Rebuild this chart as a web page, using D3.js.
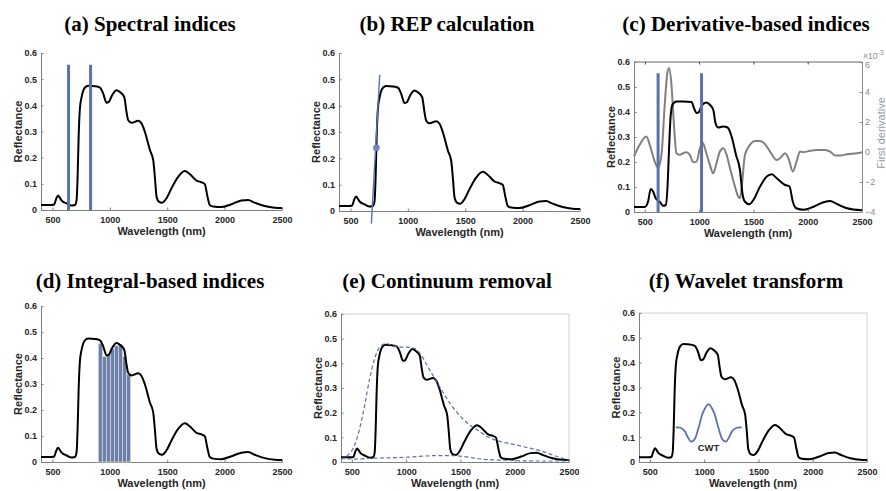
<!DOCTYPE html>
<html>
<head>
<meta charset="utf-8">
<script src="https://cdn.jsdelivr.net/npm/d3@7"></script>
<style>
body { margin: 0; background: #fff; }
svg text { font-family: "Liberation Sans", Arial, sans-serif; }
</style>
</head>
<body>
<div id="chart"></div>
<script>
// vegetation spectrum used in panels a, b, d, e, f
const specWl = [400, 490, 515, 530, 548, 565, 580, 623, 667, 696, 710, 719, 728, 739, 754, 783, 812, 870, 914, 942,
    971, 991, 1020, 1058, 1087, 1125, 1145, 1160, 1189, 1247, 1276, 1305, 1349, 1378, 1392, 1407, 1427, 1456, 1494,
    1537, 1595, 1653, 1697, 1755, 1798, 1827, 1851, 1871, 1900, 1972, 2059, 2146, 2204, 2262, 2349, 2436, 2500];
const specRefl = [0.019, 0.019, 0.021, 0.040, 0.055, 0.046, 0.036, 0.025, 0.017, 0.019, 0.038, 0.127, 0.280, 0.388, 0.432, 0.468, 0.475, 0.473, 0.468, 0.445,
    0.410, 0.413, 0.439, 0.458, 0.451, 0.432, 0.375, 0.343, 0.333, 0.341, 0.331, 0.299, 0.229, 0.190, 0.127, 0.051, 0.032, 0.028, 0.045,
    0.083, 0.127, 0.149, 0.137, 0.112, 0.106, 0.099, 0.051, 0.019, 0.013, 0.011, 0.022, 0.036, 0.038, 0.028, 0.015, 0.009, 0.008];

// spectrum in panel c
const specCWl = [400, 499, 529, 554, 576, 600, 637, 668, 693, 708, 723, 736, 754, 791, 853, 930, 952, 977, 998, 1023,
    1068, 1099, 1130, 1151, 1176, 1222, 1262, 1299, 1339, 1376, 1401, 1422, 1462, 1499, 1561, 1623, 1669, 1715, 1792,
    1832, 1863, 1894, 1961, 2054, 2146, 2208, 2269, 2362, 2500];
const specCRefl = [0.020, 0.020, 0.041, 0.092, 0.082, 0.055, 0.041, 0.025, 0.028, 0.095, 0.255, 0.375, 0.429, 0.442, 0.442, 0.440, 0.416, 0.396, 0.400, 0.426,
    0.438, 0.429, 0.409, 0.355, 0.338, 0.342, 0.338, 0.302, 0.229, 0.168, 0.068, 0.041, 0.031, 0.048, 0.102, 0.142, 0.151, 0.135, 0.108,
    0.102, 0.041, 0.015, 0.009, 0.021, 0.039, 0.044, 0.032, 0.015, 0.007];

// first derivative (x 1e-3)
const derivWl = [400, 452, 514, 545, 591, 622, 653, 683, 705, 723, 745, 766, 791, 822, 853, 883, 914, 945, 976, 1007,
    1031, 1062, 1099, 1130, 1160, 1191, 1222, 1253, 1284, 1330, 1361, 1376, 1394, 1422, 1468, 1515, 1561, 1607, 1653,
    1715, 1751, 1792, 1822, 1863, 1899, 1929, 1961, 2023, 2084, 2161, 2207, 2253, 2300, 2361, 2453, 2500];
const derivVal = [-0.30, 0.48, 1.03, 0.48, -0.64, -1.04, -0.19, 3.15, 5.15, 5.60, 4.49, 2.04, -0.08, -0.19, -0.08, -0.01, -0.19, -0.68, -0.64, 0.25,
    0.63, 0.03, -0.86, -1.42, -0.75, 0.03, 0.25, -0.19, -1.08, -2.31, -2.98, -3.09, -2.20, -0.19, 0.48, 0.74, 0.74, 0.52, 0.03,
    -0.53, -0.37, -0.08, -0.41, -1.30, -0.59, 0.03, -0.01, 0.08, 0.14, 0.14, 0.03, -0.24, -0.24, -0.15, -0.08, -0.01];

// index band positions
const bandsA = [640, 832];
const bandsC = [622, 1022];
const bandTop = 0.555;

// REP tangent and inflection point
const repLineWl = [682, 755];
const repLineRefl = [-0.048, 0.517];
const repPoint = [726, 0.24];

// integral bars
const barStart = [900, 935, 970, 1005, 1040, 1075, 1110, 1145];
const barWidth = 35;
const barHeight = [0.455, 0.405, 0.415, 0.435, 0.447, 0.452, 0.405, 0.338];

// continuum hulls
const hullUpWl = [400, 464, 526, 572, 618, 664, 710, 756, 817, 878, 940, 1001, 1077, 1139, 1200, 1292, 1384, 1476, 1568, 1660,
    1752, 1875, 1997, 2120, 2242, 2365, 2500];
const hullUp = [0.012, 0.028, 0.069, 0.136, 0.230, 0.338, 0.419, 0.466, 0.480, 0.471, 0.466, 0.466, 0.460, 0.433, 0.386, 0.318, 0.251, 0.197, 0.156, 0.129,
    0.102, 0.082, 0.071, 0.058, 0.045, 0.026, 0.007];
const hullLowWl = [400, 526, 679, 986, 1292, 1414, 1537, 1691, 1906, 2212, 2500];
const hullLow = [0.015, 0.012, 0.015, 0.019, 0.026, 0.026, 0.022, 0.012, 0.007, 0.004, 0.004];

// wavelet sketch
const cwtWl = [740, 780, 820, 850, 880, 910, 950, 990, 1040, 1090, 1130, 1170, 1200, 1230, 1260, 1300, 1345];
const cwtVal = [0.139, 0.138, 0.125, 0.100, 0.082, 0.090, 0.140, 0.200, 0.233, 0.200, 0.140, 0.090, 0.082, 0.100, 0.125, 0.138, 0.139];

const xTicks = [500, 1000, 1500, 2000, 2500];
const yTicks = [0, 0.1, 0.2, 0.3, 0.4, 0.5, 0.6];
const yTickLabels = ["0", "0.1", "0.2", "0.3", "0.4", "0.5", "0.6"];
const dTicks = [-4, -2, 0, 2, 4, 6];

const ctx = {
    w: 886, h: 491,
    blue: "#5a73a7",
    axis: "#7f7f7f",
    tickText: "#262626",
    serif: "'Liberation Serif', 'Times New Roman', serif"
};

const panels = {
    a: {left: 41, right: 282, top: 53, bottom: 210, title: "(a) Spectral indices", tx: 150, ty: 31, box: false},
    b: {left: 339, right: 580, top: 53, bottom: 211, title: "(b) REP calculation", tx: 447, ty: 31, box: false},
    c: {left: 634, right: 862, top: 62, bottom: 212, title: "(c) Derivative-based indices", tx: 746, ty: 31, box: "dark"},
    d: {left: 41, right: 282, top: 306, bottom: 462, title: "(d) Integral-based indices", tx: 150, ty: 288, box: false},
    e: {left: 341, right: 569, top: 314, bottom: 462, title: "(e) Continuum removal", tx: 447, ty: 288, box: "light"},
    f: {left: 639, right: 867, top: 313, bottom: 462, title: "(f) Wavelet transform", tx: 746, ty: 288, box: "light"}
};

const svg = d3.select("#chart").append("svg")
    .attr("width", ctx.w)
    .attr("height", ctx.h);

function styleAxis(g, color, bold) {
    g.select(".domain").attr("stroke", color);
    g.selectAll(".tick line").attr("stroke", color);
    g.selectAll(".tick text")
        .attr("fill", bold ? ctx.tickText : color)
        .style("font-size", "9px")
        .style("font-weight", bold ? "bold" : "normal");
}

function makePanel(p) {
    let g = svg.append("g");
    let x = d3.scaleLinear().domain([400, 2500]).range([p.left, p.right]);
    let y = d3.scaleLinear().domain([0, 0.6]).range([p.bottom, p.top]);

    if (p.box) {
        let c = p.box === "dark" ? "#404040" : "#c4c4c4";
        g.append("line").attr("x1", p.left).attr("x2", p.right).attr("y1", p.top).attr("y2", p.top)
            .attr("stroke", c).attr("stroke-width", 0.8);
        if (p.box === "light") {
            g.append("line").attr("x1", p.right).attr("x2", p.right).attr("y1", p.top).attr("y2", p.bottom)
                .attr("stroke", c).attr("stroke-width", 0.8);
        } else {
            g.append("g")
                .attr("transform", "translate(0," + p.top + ")")
                .call(d3.axisTop(x).tickValues(xTicks).tickSizeInner(-2.5).tickSizeOuter(0).tickFormat(""))
                .call(a => a.select(".domain").remove())
                .selectAll(".tick line").attr("stroke", c);
        }
    }

    let xg = g.append("g")
        .attr("transform", "translate(0," + p.bottom + ")")
        .call(d3.axisBottom(x).tickValues(xTicks).tickFormat(d3.format("d"))
            .tickSizeInner(-2.5).tickSizeOuter(0).tickPadding(6.5));
    styleAxis(xg, ctx.axis, true);

    let yg = g.append("g")
        .attr("transform", "translate(" + p.left + ",0)")
        .call(d3.axisLeft(y).tickValues(yTicks).tickFormat((d, i) => yTickLabels[i])
            .tickSizeInner(-2.5).tickSizeOuter(0).tickPadding(4));
    styleAxis(yg, ctx.axis, true);

    g.append("text")
        .attr("x", (p.left + p.right) / 2)
        .attr("y", p.bottom + 25)
        .attr("text-anchor", "middle")
        .attr("fill", ctx.tickText)
        .style("font-size", "11px")
        .style("font-weight", "bold")
        .text("Wavelength (nm)");
    g.append("text")
        .attr("transform", "translate(" + (p.left - 23) + "," + ((p.top + p.bottom) / 2) + ") rotate(-90)")
        .attr("dy", "0.35em")
        .attr("text-anchor", "middle")
        .attr("fill", ctx.tickText)
        .style("font-size", "11px")
        .style("font-weight", "bold")
        .text("Reflectance");

    g.append("text")
        .attr("x", p.tx)
        .attr("y", p.ty)
        .attr("text-anchor", "middle")
        .attr("fill", "#000")
        .style("font-family", ctx.serif)
        .style("font-size", "21px")
        .style("font-weight", "bold")
        .text(p.title);

    return {g: g, x: x, y: y};
}

function curve(panel, xs, ys, yScale) {
    let ysc = yScale || panel.y;
    return d3.line()
        .curve(d3.curveMonotoneX)
        .x((d, i) => panel.x(xs[i]))
        .y((d, i) => ysc(ys[i]))(xs);
}

function drawSpectrum(panel, xs, ys) {
    panel.g.append("path")
        .attr("d", curve(panel, xs, ys))
        .attr("fill", "none")
        .attr("stroke", "#000")
        .attr("stroke-width", 2)
        .attr("stroke-linejoin", "round");
}

function drawBands(panel, bands) {
    panel.g.selectAll("line.band")
        .data(bands)
        .enter()
        .append("line")
        .attr("class", "band")
        .attr("x1", d => panel.x(d))
        .attr("x2", d => panel.x(d))
        .attr("y1", panel.y(0))
        .attr("y2", panel.y(bandTop))
        .attr("stroke", ctx.blue)
        .attr("stroke-width", 3);
}

// (a)
let pa = makePanel(panels.a);
drawSpectrum(pa, specWl, specRefl);
drawBands(pa, bandsA);

// (b)
let pb = makePanel(panels.b);
drawSpectrum(pb, specWl, specRefl);
pb.g.append("line")
    .attr("x1", pb.x(repLineWl[0])).attr("y1", pb.y(repLineRefl[0]))
    .attr("x2", pb.x(repLineWl[1])).attr("y2", pb.y(repLineRefl[1]))
    .attr("stroke", ctx.blue)
    .attr("stroke-width", 1.4);
pb.g.append("circle")
    .attr("cx", pb.x(repPoint[0]))
    .attr("cy", pb.y(repPoint[1]))
    .attr("r", 3.3)
    .attr("fill", "#6f86b6");

// (c)
let pc = makePanel(panels.c);
let yD = d3.scaleLinear().domain([-4, 6]).range([panels.c.bottom, panels.c.top]);
let rg = pc.g.append("g")
    .attr("transform", "translate(" + panels.c.right + ",0)")
    .call(d3.axisRight(yD).tickValues(dTicks).tickSizeInner(-2.5).tickSizeOuter(0).tickPadding(3));
styleAxis(rg, "#8c8c8c", false);
// nudge the top label down a little so the exponent fits above it
rg.selectAll(".tick text").filter(d => d === 6).attr("dy", "0.6em");
pc.g.append("text")
    .attr("x", panels.c.right + 1)
    .attr("y", panels.c.top - 3)
    .attr("fill", "#8c8c8c")
    .style("font-size", "8.5px")
    .text("\u00d710")
    .append("tspan")
    .attr("dy", "-4")
    .style("font-size", "7px")
    .text("-3");
pc.g.append("text")
    .attr("transform", "translate(" + (panels.c.right + 19) + "," + ((panels.c.top + panels.c.bottom) / 2 - 4) + ") rotate(-90)")
    .attr("dy", "0.35em")
    .attr("text-anchor", "middle")
    .attr("fill", "#9a9a9a")
    .style("font-size", "11px")
    .text("First derivative");
pc.g.append("path")
    .attr("d", curve(pc, derivWl, derivVal, yD))
    .attr("fill", "none")
    .attr("stroke", "#808080")
    .attr("stroke-width", 2);
drawSpectrum(pc, specCWl, specCRefl);
drawBands(pc, bandsC);

// (d)
let pd = makePanel(panels.d);
pd.g.selectAll("rect.bar")
    .data(barStart)
    .enter()
    .append("rect")
    .attr("class", "bar")
    .attr("x", d => pd.x(d))
    .attr("width", d => pd.x(d + barWidth) - pd.x(d))
    .attr("y", (d, i) => pd.y(barHeight[i]))
    .attr("height", (d, i) => pd.y(0) - pd.y(barHeight[i]))
    .attr("fill", "#6a7fab")
    .attr("stroke", "#cfcfcf")
    .attr("stroke-width", 0.9);
drawSpectrum(pd, specWl, specRefl);

// (e)
let pe = makePanel(panels.e);
drawSpectrum(pe, specWl, specRefl);
[[hullUpWl, hullUp], [hullLowWl, hullLow]].forEach(h => {
    pe.g.append("path")
        .attr("d", curve(pe, h[0], h[1]))
        .attr("fill", "none")
        .attr("stroke", ctx.blue)
        .attr("stroke-width", 1.2)
        .attr("stroke-dasharray", "4,2.5");
});

// (f)
let pf = makePanel(panels.f);
drawSpectrum(pf, specWl, specRefl);
pf.g.append("path")
    .attr("d", d3.line().curve(d3.curveCatmullRom).x((d, i) => pf.x(cwtWl[i])).y((d, i) => pf.y(cwtVal[i]))(cwtWl))
    .attr("fill", "none")
    .attr("stroke", ctx.blue)
    .attr("stroke-width", 1.8);
pf.g.append("text")
    .attr("x", pf.x(1040))
    .attr("y", pf.y(0.045))
    .attr("text-anchor", "middle")
    .attr("fill", ctx.tickText)
    .style("font-size", "9.5px")
    .style("font-weight", "bold")
    .text("CWT");
</script>
</body>
</html>
